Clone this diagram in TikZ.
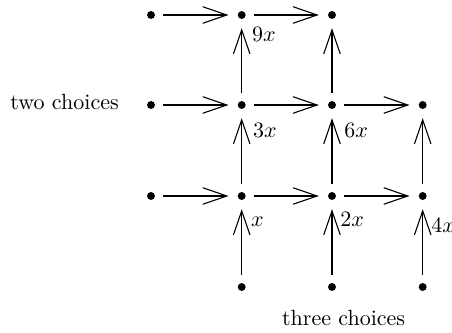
\documentclass[tikz,border=0pt]{standalone}
\usetikzlibrary{arrows.meta}
\begin{document}
\begin{tikzpicture}[x=0.4545pt,y=-0.4545pt,
  dot/.style={circle,fill=black,inner sep=0pt,minimum size=3.6pt},
  arr/.style={line width=0.5pt,-{Straight Barb[length=10.9pt,width=7.5pt,line width=0.5pt]},shorten <=3.4pt,shorten >=4pt},
  lbl/.style={anchor=base west,inner sep=0pt},
  txt/.style={anchor=base west,inner sep=0pt}]
\useasboundingbox (0,0) rectangle (452,333);
% dots
\node[dot] (a0) at (151,15) {};
\node[dot] (a1) at (241.7,15) {};
\node[dot] (a2) at (332,15) {};
\node[dot] (b0) at (151,105) {};
\node[dot] (b1) at (241.7,105) {};
\node[dot] (b2) at (332,105) {};
\node[dot] (b3) at (422.7,105) {};
\node[dot] (c0) at (151,196) {};
\node[dot] (c1) at (241.7,196) {};
\node[dot] (c2) at (332,196) {};
\node[dot] (c3) at (422.7,196) {};
\node[dot] (d1) at (241.7,287) {};
\node[dot] (d2) at (332,287) {};
\node[dot] (d3) at (422.7,287) {};
% horizontal arrows
\draw[arr] (a0) -- (a1);
\draw[arr] (a1) -- (a2);
\draw[arr] (b0) -- (b1);
\draw[arr] (b1) -- (b2);
\draw[arr] (b2) -- (b3);
\draw[arr] (c0) -- (c1);
\draw[arr] (c1) -- (c2);
\draw[arr] (c2) -- (c3);
% vertical arrows
\draw[arr] (b1) -- (a1);
\draw[arr] (b2) -- (a2);
\draw[arr] (c1) -- (b1);
\draw[arr] (c2) -- (b2);
\draw[arr] (c3) -- (b3);
\draw[arr] (d1) -- (c1);
\draw[arr] (d2) -- (c2);
\draw[arr] (d3) -- (c3);
% labels
\node[lbl] (l9) at (251.7,41.7) {$9x$};
\node[lbl] (l3) at (252.7,137.3) {$3x$};
\node[lbl] (l6) at (344,138) {$6x$};
\node[lbl] (l1) at (250.7,226.7) {$x$};
\node[lbl] (l2) at (340,226.7) {$2x$};
\node[lbl] (l4) at (431,232.3) {$4x$};
% texts
\node[txt] (two) at (10,110) {two choices};
\node[txt] (three) at (281.7,326) {three choices};
\end{tikzpicture}
\end{document}
